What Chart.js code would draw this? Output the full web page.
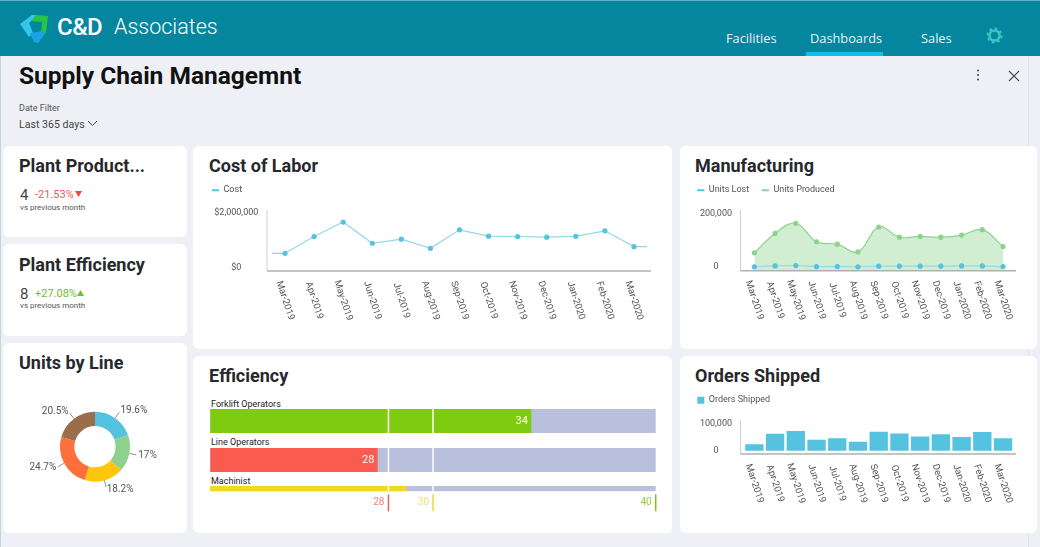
<!DOCTYPE html>
<html>
<head>
<meta charset="utf-8">
<title>Supply Chain Managemnt</title>
<script src="https://cdn.jsdelivr.net/npm/chart.js@4"></script>
<style>
  html, body { margin: 0; padding: 0; }
  body { width: 1040px; height: 547px; position: relative; overflow: hidden; background: #eef0f6; font-family: Roboto, sans-serif; color: #222; }
  .abs { position: absolute; white-space: nowrap; }
  .header { position: absolute; left: 0; top: 0; width: 1040px; height: 56px; background: #04869f; border-top: 1px solid #5fb3c4; box-sizing: border-box; }
  .card { position: absolute; background: #fff; border-radius: 6px; }
  .title { position: absolute; font-size: 18px; font-weight: 700; color: #26282c; white-space: nowrap; }
  .nav { position: absolute; top: 29px; font-family: "Open Sans"; font-size: 12.8px; color: #e6f4f7; }
  canvas { position: absolute; }
</style>
</head>
<body>
<div class="header"></div>
<svg class="abs" style="left:19px;top:14px" width="31" height="30" viewBox="0 0 31 30">
  <path d="M1 10 L13 1 L19 1 L10 9 L14 19 L10 23 Z" fill="#35c6ee"/>
  <path d="M17 1 L29 2 L27 19 L22 20 L23 8 L12 7 Z" fill="#27c24a"/>
  <path d="M11 19 L24 17 L26 20 L19 29 L15 28 Z" fill="#1aa2e6"/>
</svg>
<div class="abs" style="left:57px;top:13px;font-size:24px;font-weight:500;color:#fff;letter-spacing:-.5px">C&amp;D</div>
<div class="abs" style="left:114px;top:14px;font-size:21.5px;font-weight:300;color:#fff">Associates</div>
<div class="nav" style="left:726px">Facilities</div>
<div class="nav" style="left:810px">Dashboards</div>
<div class="nav" style="left:921px">Sales</div>
<div class="abs" style="left:806px;top:52px;width:77px;height:4px;background:#0cc0f0"></div>
<svg class="abs" style="left:986px;top:27px" width="17" height="17" viewBox="0 0 17 17">
  <circle cx="8.5" cy="8.5" r="5" fill="none" stroke="#38c6c6" stroke-width="2.6"/>
  <circle cx="8.5" cy="8.5" r="7" fill="none" stroke="#38c6c6" stroke-width="2" stroke-dasharray="2.6 2.9"/>
</svg>
<div class="abs" style="left:0;top:56px;width:1px;height:491px;background:#c9d3da"></div>
<div class="abs" style="left:1028px;top:56px;width:1px;height:491px;background:#e2e4ea"></div>

<div class="abs" style="left:19px;top:61px;font-size:24.5px;font-weight:700;color:#111">Supply Chain Managemnt</div>
<div class="abs" style="left:19px;top:103px;font-size:9px;color:#555">Date Filter</div>
<div class="abs" style="left:19px;top:118px;font-size:10.6px;color:#444">Last 365 days</div>
<svg class="abs" style="left:87px;top:120px" width="11" height="7" viewBox="0 0 11 7"><path d="M1 1 L5.5 5.5 L10 1" fill="none" stroke="#444" stroke-width="1"/></svg>
<svg class="abs" style="left:972px;top:68px" width="12" height="14" viewBox="0 0 12 14"><circle cx="6" cy="2.5" r="1" fill="#444"/><circle cx="6" cy="7" r="1" fill="#444"/><circle cx="6" cy="11.5" r="1" fill="#444"/></svg>
<svg class="abs" style="left:1007px;top:69px" width="14" height="14" viewBox="0 0 14 14"><path d="M2 2 L12 12 M12 2 L2 12" stroke="#444" stroke-width="1.1"/></svg>

<div class="card" style="left:3px;top:146px;width:184px;height:91px"></div>
<div class="card" style="left:3px;top:244px;width:184px;height:92px"></div>
<div class="card" style="left:3px;top:343px;width:184px;height:190px"></div>
<div class="card" style="left:193px;top:146px;width:479px;height:203px"></div>
<div class="card" style="left:680px;top:146px;width:357px;height:203px"></div>
<div class="card" style="left:193px;top:356px;width:479px;height:177px"></div>
<div class="card" style="left:680px;top:356px;width:357px;height:177px"></div>

<div class="title" style="left:19px;top:155px">Plant Product...</div>
<div class="abs" style="left:20px;top:186px;font-size:15px;color:#444">4</div>
<div class="abs" style="left:35px;top:188px;font-size:11px;color:#ee5a52">-21.53%</div>
<svg class="abs" style="left:75px;top:191px" width="7" height="6"><path d="M0 0 L7 0 L3.5 6 Z" fill="#ee4a42"/></svg>
<div class="abs" style="left:20px;top:203px;font-size:8px;color:#555">vs previous month</div>

<div class="title" style="left:19px;top:254px">Plant Efficiency</div>
<div class="abs" style="left:20px;top:285px;font-size:15px;color:#444">8</div>
<div class="abs" style="left:35px;top:287px;font-size:11px;color:#6fc02a">+27.08%</div>
<svg class="abs" style="left:77px;top:290px" width="7" height="6"><path d="M0 6 L7 6 L3.5 0 Z" fill="#6fc02a"/></svg>
<div class="abs" style="left:20px;top:301px;font-size:8px;color:#555">vs previous month</div>

<div class="title" style="left:19px;top:352px">Units by Line</div>
<div class="title" style="left:209px;top:155px">Cost of Labor</div>
<div class="title" style="left:695px;top:155px">Manufacturing</div>
<div class="title" style="left:209px;top:365px">Efficiency</div>
<div class="title" style="left:695px;top:365px">Orders Shipped</div>

<div class="abs" style="left:211px;top:399px;font-size:9px;color:#222">Forklift Operators</div>
<div class="abs" style="left:211px;top:437px;font-size:9px;color:#222">Line Operators</div>
<div class="abs" style="left:211px;top:476px;font-size:9px;color:#222">Machinist</div>

<canvas id="costChart" style="left:195px;top:173px" width="480" height="172"></canvas>
<canvas id="manufacturingChart" style="left:680px;top:173px" width="357" height="172"></canvas>
<canvas id="ordersChart" style="left:680px;top:383px" width="357" height="147"></canvas>
<canvas id="unitsChart" style="left:3px;top:380px" width="184" height="140"></canvas>
<canvas id="forkliftChart" style="left:195px;top:409px" width="480" height="24"></canvas>
<canvas id="lineOpsChart" style="left:195px;top:448px" width="480" height="24"></canvas>
<canvas id="machinistChart" style="left:195px;top:486px" width="480" height="30"></canvas>

<script>
const months = ['Mar-2019', 'Apr-2019', 'May-2019', 'Jun-2019', 'Jul-2019', 'Aug-2019', 'Sep-2019', 'Oct-2019', 'Nov-2019', 'Dec-2019', 'Jan-2020', 'Feb-2020', 'Mar-2020'];
const costValues = [518000, 1136000, 1667000, 889000, 1037000, 704000, 1383000, 1148000, 1136000, 1111000, 1142000, 1346000, 765000];
const costTicks = [0, 2000000];
const unitsLost = [500, 4000, 5500, 1700, 1700, 500, 3000, 3000, 3000, 3000, 4000, 4000, 1700];
const unitsProduced = [53000, 125000, 163000, 94000, 85000, 56000, 149000, 111000, 114000, 111000, 119000, 139000, 76000];
const unitsTicks = [0, 200000];
const ordersShipped = [24000, 62000, 72000, 40000, 45000, 33000, 69000, 63000, 52000, 60000, 50000, 68000, 45000];
const ordersTicks = [0, 100000];
const lineShares = [19.6, 17, 18.2, 24.7, 20.5];
const forkliftValue = [34.4];
const lineOpsValue = [27.5];
const machinistValue = [28.8];
const efficiencyMax = [40];
const thresholds = [28, 30, 40];

const CYAN = '#55c3df', CYAN_LIGHT = '#93d8ea', GREEN = '#8dd28f';
const GREY = '#555';

Chart.defaults.font.family = 'Roboto';
Chart.defaults.font.size = 9;
Chart.defaults.color = GREY;
Chart.defaults.animation = false;
Chart.defaults.responsive = false;

// legend block gets a fixed height so the plot top lands where it should
const legendHeight = {
    id: 'legendHeight',
    beforeLayout(chart) {
        const legend = chart.legend;
        if (legend._fitWrapped) return;
        const fit = legend.fit;
        legend.fit = function () {
            fit.call(this);
            this.height = 37;
        };
        legend._fitWrapped = true;
    }
};

// x labels lean the other way from what chart.js allows, and the axes stick out past the plot
const axisPlugin = {
    id: 'axisPlugin',
    afterDraw(chart) {
        const { ctx, chartArea: a, scales: { x } } = chart;
        ctx.save();
        ctx.strokeStyle = '#cfcfcf';
        ctx.lineWidth = 1;
        ctx.beginPath();
        ctx.moveTo(a.left - 3.5, a.top);
        ctx.lineTo(a.left - 3.5, a.bottom);
        ctx.stroke();
        ctx.strokeStyle = '#b0b0b0';
        ctx.lineWidth = 1.5;
        ctx.beginPath();
        ctx.moveTo(a.left - 3.5, a.bottom);
        ctx.lineTo(a.right + 2.5, a.bottom);
        ctx.stroke();
        ctx.fillStyle = GREY;
        ctx.font = '9.5px Roboto';
        ctx.textAlign = 'center';
        ctx.textBaseline = 'middle';
        x.ticks.forEach((t, i) => {
            ctx.save();
            ctx.translate(x.getPixelForTick(i), a.bottom + 29.5);
            ctx.rotate(72 * Math.PI / 180);
            ctx.fillText(x.getLabelForValue(t.value), 0, 0);
            ctx.restore();
        });
        ctx.restore();
    }
};

// cost line runs on a bit flat at both ends
const lineEnds = {
    id: 'lineEnds',
    beforeDatasetsDraw(chart) {
        const { ctx, chartArea: a, scales: { y } } = chart;
        const vals = chart.data.datasets[0].data;
        const pts = chart.getDatasetMeta(0).data;
        ctx.save();
        ctx.strokeStyle = CYAN_LIGHT;
        ctx.lineWidth = 1.2;
        ctx.beginPath();
        ctx.moveTo(a.left + 1.5, y.getPixelForValue(vals[0]));
        ctx.lineTo(pts[0].x, pts[0].y);
        ctx.moveTo(pts[pts.length - 1].x, pts[pts.length - 1].y);
        ctx.lineTo(a.right - 1.5, y.getPixelForValue(vals[vals.length - 1]));
        ctx.stroke();
        ctx.restore();
    }
};

function legendOpts(pointStyle, markWidth) {
    return {
        position: 'top',
        align: 'start',
        labels: {
            padding: 12.7,
            usePointStyle: true,
            pointStyleWidth: 7,
            boxHeight: 7,
            font: { size: 9 },
            generateLabels(chart) {
                return chart.data.datasets.map((d, i) => ({
                    text: d.label,
                    fillStyle: d.legendColor,
                    strokeStyle: d.legendColor,
                    fontColor: GREY,
                    lineWidth: markWidth,
                    pointStyle: pointStyle,
                    datasetIndex: i
                }));
            }
        }
    };
}

function valueScales(min, max, ticks, axisWidth, fmt, pad) {
    return {
        x: {
            offset: true, grid: { display: false }, border: { display: false }, ticks: { display: false },
            afterFit: s => { s.height = 0; }
        },
        y: {
            min: min, max: max,
            grid: { display: false }, border: { display: false },
            afterBuildTicks: s => { s.ticks = ticks.map(v => ({ value: v })); },
            afterFit: s => { s.width = axisWidth; },
            ticks: { crossAlign: 'center', padding: pad, callback: fmt, color: GREY, font: { size: 9 } }
        }
    };
}

new Chart(document.getElementById('costChart'), {
    type: 'line',
    data: {
        labels: months,
        datasets: [{
            label: 'Cost', data: costValues, legendColor: CYAN,
            borderColor: CYAN_LIGHT, borderWidth: 1.2,
            pointBackgroundColor: CYAN, pointBorderColor: CYAN, pointRadius: 2, tension: 0
        }]
    },
    options: {
        layout: { padding: { left: 4.3, right: 26.5, bottom: 74 } },
        plugins: { legend: legendOpts('line', 2) },
        scales: valueScales(-130000, 2110000, costTicks, 71.2, v => '$' + Number(v).toLocaleString('en-US'), 4.2)
    },
    plugins: [legendHeight, axisPlugin, lineEnds]
});

new Chart(document.getElementById('manufacturingChart'), {
    type: 'line',
    data: {
        labels: months,
        datasets: [{
            label: 'Units Lost', data: unitsLost, legendColor: CYAN,
            borderColor: CYAN_LIGHT, borderWidth: 1.2,
            pointBackgroundColor: CYAN, pointBorderColor: CYAN, pointRadius: 2, tension: 0.4
        }, {
            label: 'Units Produced', data: unitsProduced, legendColor: GREEN,
            borderColor: GREEN, borderWidth: 1.2, fill: 'start', backgroundColor: 'rgba(141,210,143,0.4)',
            pointBackgroundColor: GREEN, pointBorderColor: GREEN, pointRadius: 2, tension: 0.4
        }]
    },
    options: {
        layout: { padding: { left: 4.6, right: 23.6, bottom: 74.3 } },
        plugins: { legend: legendOpts('line', 2) },
        scales: valueScales(-13800, 212300, unitsTicks, 59.4, v => Number(v).toLocaleString('en-US'), 4)
    },
    plugins: [legendHeight, axisPlugin]
});

new Chart(document.getElementById('ordersChart'), {
    type: 'bar',
    data: {
        labels: months,
        datasets: [{
            label: 'Orders Shipped', data: ordersShipped, legendColor: CYAN,
            backgroundColor: CYAN, barPercentage: 0.885, categoryPercentage: 1
        }]
    },
    options: {
        layout: { padding: { left: 4.6, right: 23.6, bottom: 76 } },
        plugins: { legend: legendOpts('rect', 0) },
        scales: valueScales(-12000, 112000, ordersTicks, 59.4, v => Number(v).toLocaleString('en-US'), 4)
    },
    plugins: [legendHeight, axisPlugin]
});

// percent labels with little leader lines around the donut
const donutLabels = {
    id: 'donutLabels',
    afterDraw(chart) {
        const { ctx } = chart;
        ctx.save();
        ctx.font = '10px Roboto';
        ctx.fillStyle = GREY;
        ctx.strokeStyle = '#777';
        ctx.lineWidth = 0.8;
        ctx.textBaseline = 'middle';
        chart.getDatasetMeta(0).data.forEach((arc, i) => {
            const mid = (arc.startAngle + arc.endAngle) / 2;
            const c = Math.cos(mid), s = Math.sin(mid), r = arc.outerRadius;
            ctx.beginPath();
            ctx.moveTo(arc.x + c * r, arc.y + s * r);
            ctx.lineTo(arc.x + c * (r + 7), arc.y + s * (r + 7));
            ctx.stroke();
            ctx.textAlign = c >= 0 ? 'left' : 'right';
            ctx.fillText(lineShares[i] + '%', arc.x + c * (r + 9), arc.y + s * (r + 9));
        });
        ctx.restore();
    }
};

new Chart(document.getElementById('unitsChart'), {
    type: 'doughnut',
    data: {
        datasets: [{
            data: lineShares,
            backgroundColor: [CYAN, '#8ed08e', '#ffc60a', '#ff6f3c', '#9a6e4b'],
            borderWidth: 0
        }]
    },
    options: {
        cutout: '59%',
        layout: { padding: { left: 57, right: 57, top: 31.7, bottom: 38.3 } },
        plugins: { legend: { display: false }, tooltip: { enabled: false } }
    },
    plugins: [donutLabels]
});

// white separators at the first two thresholds, number inside the thick bars
const gaugeMarks = {
    id: 'gaugeMarks',
    afterDatasetsDraw(chart) {
        const { ctx, chartArea: a, scales: { x } } = chart;
        const bar = chart.getDatasetMeta(1).data[0];
        ctx.save();
        ctx.strokeStyle = '#fff';
        ctx.lineWidth = 1.5;
        thresholds.slice(0, 2).forEach(t => {
            ctx.beginPath();
            ctx.moveTo(x.getPixelForValue(t), a.top);
            ctx.lineTo(x.getPixelForValue(t), a.bottom);
            ctx.stroke();
        });
        if (a.bottom - a.top > 15) {
            ctx.fillStyle = '#fff';
            ctx.font = '11px Roboto';
            ctx.textAlign = 'right';
            ctx.textBaseline = 'middle';
            ctx.fillText(Math.round(chart.data.datasets[1].data[0]), bar.x - 3, (a.top + a.bottom) / 2);
        }
        ctx.restore();
    }
};

const thresholdMarks = {
    id: 'thresholdMarks',
    afterDraw(chart) {
        const { ctx, chartArea: a, scales: { x } } = chart;
        const solid = ['#e5635a', '#f2d82f', '#7fc31c'];
        const soft = ['#f0837b', '#f3df6a', '#93cf45'];
        ctx.save();
        ctx.font = '10px Roboto';
        ctx.textAlign = 'right';
        ctx.textBaseline = 'middle';
        thresholds.forEach((t, i) => {
            const px = x.getPixelForValue(t);
            ctx.strokeStyle = solid[i];
            ctx.lineWidth = 1.5;
            ctx.beginPath();
            ctx.moveTo(px, a.bottom + 3);
            ctx.lineTo(px, a.bottom + 20);
            ctx.stroke();
            ctx.fillStyle = soft[i];
            ctx.fillText(t, px - 4, a.bottom + 11.5);
        });
        ctx.restore();
    }
};

function gauge(id, label, value, color, bottomPad, extra) {
    new Chart(document.getElementById(id), {
        type: 'bar',
        data: {
            labels: [label],
            datasets: [
                { data: efficiencyMax, backgroundColor: '#b8c0dc', barPercentage: 1, categoryPercentage: 1, grouped: false, order: 2 },
                { data: value, backgroundColor: color, barPercentage: 1, categoryPercentage: 1, grouped: false, order: 1 }
            ]
        },
        options: {
            indexAxis: 'y',
            layout: { padding: { left: 15.3, right: 19.3, bottom: bottomPad } },
            plugins: { legend: { display: false }, tooltip: { enabled: false } },
            scales: {
                x: { display: false, min: 20, max: 40 },
                y: { display: false }
            }
        },
        plugins: extra
    });
}

gauge('forkliftChart', 'Forklift Operators', forkliftValue, '#7fcb10', 0, [gaugeMarks]);
gauge('lineOpsChart', 'Line Operators', lineOpsValue, '#fb5b4f', 0, [gaugeMarks]);
gauge('machinistChart', 'Machinist', machinistValue, '#f4d81e', 24.7, [gaugeMarks, thresholdMarks]);
</script>
</body>
</html>
